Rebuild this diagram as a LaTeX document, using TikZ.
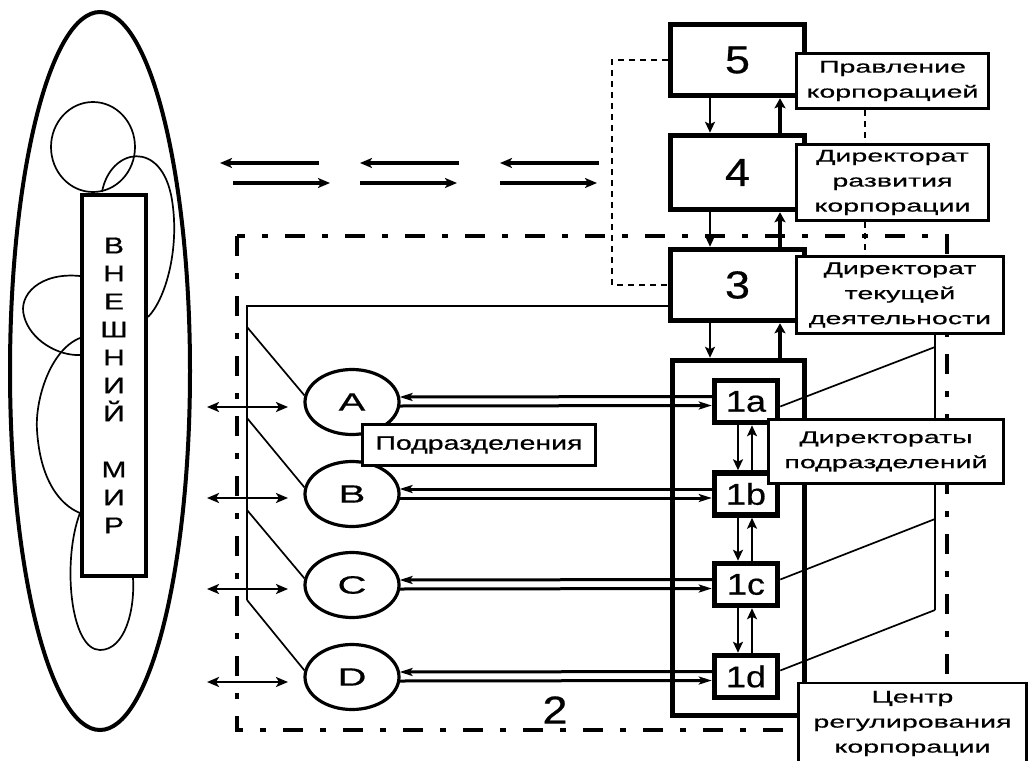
\documentclass[tikz,border=0pt]{standalone}
\usepackage{fontspec}
\setmainfont{Liberation Sans}
\newfontfamily\labf[FakeStretch=1.68,FakeBold=0.6]{Liberation Sans}
\newfontfamily\circf[FakeStretch=1.6,FakeBold=0.6]{Liberation Sans}
\newfontfamily\digf[FakeStretch=1.15,FakeBold=0.6]{Liberation Sans}
\newfontfamily\smf[FakeStretch=1.2,FakeBold=0.6]{Liberation Sans}
\newfontfamily\vertf[FakeStretch=1.3,FakeBold=0.6]{Liberation Sans}
\newfontfamily\podf[FakeStretch=1.46,FakeBold=0.6]{Liberation Sans}
\usetikzlibrary{arrows.meta,shapes.geometric,calc}
\begin{document}
\begin{tikzpicture}[x=1pt,y=-1pt,
  bigbox/.style={draw, line width=5.5pt, fill=white, minimum width=134pt, inner sep=0pt,
    font=\digf\fontsize{39}{45}\selectfont},
  smallbox/.style={draw, line width=5.5pt, fill=white, minimum width=63pt, minimum height=42pt, inner sep=0pt,
    font=\smf\fontsize{30}{36}\selectfont},
  labbox/.style={draw, line width=2.8pt, fill=white, inner sep=0pt, align=center,
    font=\labf\fontsize{17}{25}\selectfont},
  circ/.style={draw, ellipse, line width=3.2pt, minimum width=94pt, minimum height=65pt, inner sep=0pt,
    font=\circf\fontsize{25}{30}\selectfont},
  tarr/.style={line width=3.2pt, -{Stealth[length=12pt,width=10pt,inset=3pt]}},
  varr/.style={line width=2.8pt, -{Stealth[length=11pt,width=10pt,inset=2.5pt]}},
  varrthick/.style={line width=4.5pt, -{Stealth[length=10pt,width=11pt,inset=2pt]}},
  harr/.style={line width=3pt, -{Stealth[length=13pt,width=8pt,inset=3pt]}},
  dblarr/.style={line width=2.4pt, {Stealth[length=12pt,width=10pt,inset=3pt]}-{Stealth[length=12pt,width=10pt,inset=3pt]}},
  thinl/.style={line width=1.7pt},
  loopl/.style={line width=1.7pt},
  dashdot/.style={line width=4pt, dash pattern=on 20pt off 17pt on 6pt off 17pt},
  thindash/.style={line width=1.6pt, dash pattern=on 6pt off 5pt}
]
\useasboundingbox (0,0) rectangle (1030,760);

% external world
\node[draw, ellipse, line width=4pt, minimum width=180pt, minimum height=718pt, inner sep=0pt] (world) at (100,371) {};
\draw[loopl] (93,147) ellipse [x radius=42, y radius=45];
\draw[loopl] (102,192) .. controls (110,148) and (162,138) .. (172,200) .. controls (180,250) and (165,300) .. (148,317);
\draw[loopl] (80,276) .. controls (40,272) and (18,295) .. (24,316) .. controls (30,340) and (58,356) .. (80,355);
\draw[loopl] (80,338) .. controls (50,350) and (35,400) .. (37,430) .. controls (40,480) and (60,505) .. (80,513);
\draw[loopl] (80,513) .. controls (62,560) and (70,650) .. (100,650) .. controls (125,650) and (135,610) .. (133,578);
\node[draw, line width=4.5pt, fill=white, minimum width=64pt, minimum height=381pt, inner sep=0pt, align=center,
  font=\vertf\fontsize{23}{28}\selectfont] (wm) at (114,385.5) {В\\Н\\Е\\Ш\\Н\\И\\Й\\[28pt]М\\И\\Р};

% top arrows
\coordinate (ta1) at (319,163); \coordinate (ta2) at (220,163);
\coordinate (tb1) at (233,183); \coordinate (tb2) at (330,183);
\coordinate (tc1) at (459,163); \coordinate (tc2) at (360,163);
\coordinate (td1) at (360,183); \coordinate (td2) at (457,183);
\coordinate (te1) at (599,163); \coordinate (te2) at (500,163);
\coordinate (tf1) at (500,183); \coordinate (tf2) at (597,183);
\draw[tarr] (ta1) -- (ta2);
\draw[tarr] (tb1) -- (tb2);
\draw[tarr] (tc1) -- (tc2);
\draw[tarr] (td1) -- (td2);
\draw[tarr] (te1) -- (te2);
\draw[tarr] (tf1) -- (tf2);

% dash-dot frame (2)
\draw[dashdot] (237,236) rectangle (947,730);
\node[font=\digf\fontsize{39}{45}\selectfont, inner sep=0pt] (two) at (555,710) {2};

% main boxes
\node[bigbox, minimum height=71pt] (b5) at (737.5,60) {5};
\node[bigbox, minimum height=74pt] (b4) at (737.5,172.5) {4};
\node[bigbox, minimum height=71pt] (b3) at (737.5,285) {3};
\node[draw, line width=5.5pt, minimum width=132pt, minimum height=355pt, inner sep=0pt] (cb) at (738.5,538) {};
\node[smallbox] (s1a) at (746,401.5) {1a};
\node[smallbox] (s1b) at (746,494) {1b};
\node[smallbox] (s1c) at (746,584.5) {1c};
\node[smallbox] (s1d) at (746,676.5) {1d};

% thin dashed line 5 -- 3
\draw[thindash] (b5.west) -- ++(-56,0) |- (b3.west);

% vertical arrows
\coordinate (xd) at (710,0); \coordinate (xu) at (780,0);
\draw[varr] (b5.south -| xd) -- (b4.north -| xd);
\draw[varrthick] (b4.north -| xu) -- (b5.south -| xu);
\draw[varr] (b4.south -| xd) -- (b3.north -| xd);
\draw[varrthick] (b3.north -| xu) -- (b4.south -| xu);
\draw[varr] (b3.south -| xd) -- (cb.north -| xd);
\draw[varrthick] (cb.north -| xu) -- (b3.south -| xu);
\coordinate (xsd) at (738,0); \coordinate (xsu) at (752,0);
\draw[varr] (s1a.south -| xsd) -- (s1b.north -| xsd);
\draw[varr] (s1b.north -| xsu) -- (s1a.south -| xsu);
\draw[varr] (s1b.south -| xsd) -- (s1c.north -| xsd);
\draw[varr] (s1c.north -| xsu) -- (s1b.south -| xsu);
\draw[varr] (s1c.south -| xsd) -- (s1d.north -| xsd);
\draw[varr] (s1d.north -| xsu) -- (s1c.south -| xsu);

% subdivisions
\node[circ] (cA) at (352,402) {A};
\node[circ] (cB) at (352,494) {B};
\node[circ] (cC) at (352,585) {C};
\node[circ] (cD) at (352,677) {D};

% thin frame from 3
\coordinate (tl) at (247,306); \coordinate (bl) at (247,600);
\coordinate (p1) at (247,327); \coordinate (p2) at (247,418); \coordinate (p3) at (247,510);
\draw[line width=2.6pt] (b3.west |- tl) -- (tl) -- (bl);
\draw[thinl] (p1) -- (cA.172);
\draw[thinl] (p2) -- (cB.172);
\draw[thinl] (p3) -- (cC.172);
\draw[thinl] (bl) -- (cD.172);

% horizontal arrows
\foreach \c/\s in {cA/s1a, cB/s1b, cC/s1c, cD/s1d}{
  \draw[harr] ($(\s.west)+(0,-5)$) -- ($(\c.east)+(-1,-5)$);
  \draw[harr] ($(\c.east)+(-1,4)$) -- ($(\s.west)+(0,4)$);
}

% left double arrows
\coordinate (la1) at (207,407); \coordinate (ra1) at (288,407);
\coordinate (la2) at (207,498); \coordinate (ra2) at (288,498);
\coordinate (la3) at (207,589); \coordinate (ra3) at (288,589);
\coordinate (la4) at (207,682); \coordinate (ra4) at (288,682);
\draw[dblarr] (la1) -- (ra1);
\draw[dblarr] (la2) -- (ra2);
\draw[dblarr] (la3) -- (ra3);
\draw[dblarr] (la4) -- (ra4);

% right thin connectors
\coordinate (rv) at (935,0);
\coordinate (r1) at (935,347); \coordinate (r3) at (935,519); \coordinate (rb) at (935,610);

% labels
\node[labbox, minimum width=192pt, minimum height=55pt] (L5) at (892.5,81) {Правление\\корпорацией};
\node[labbox, minimum width=192pt, minimum height=76pt] (L4) at (892.5,182.5) {Директорат\\развития\\корпорации};
\node[labbox, minimum width=207pt, minimum height=77pt] (L3) at (900,295) {Директорат\\текущей\\деятельности};
\coordinate (dx) at (865,0);
\draw[thindash] (L5.south -| dx) -- (L4.north -| dx);
\draw[thindash] (L4.south -| dx) -- (L3.north -| dx);
\draw[thinl] (L3.south -| rv) -- (rb);
\draw[thinl] ($(s1a.east)+(0,5)$) -- (r1);
\draw[thinl] ($(s1c.east)+(0,-5)$) -- (r3);
\draw[thinl] ($(s1d.east)+(0,-6)$) -- (rb);
\node[labbox, minimum width=235pt, minimum height=64pt] (L1) at (886,451.5) {Директораты\\подразделений};
\node[labbox, minimum width=228pt, minimum height=81pt] (LC) at (912.5,723.5) {Центр\\регулирования\\корпорации};
\node[draw, line width=2.8pt, fill=white, minimum width=233pt, minimum height=41pt, inner sep=0pt,
  font=\podf\fontsize{19.5}{24}\selectfont] (Lp) at (479,445) {Подразделения};
\end{tikzpicture}
\end{document}
